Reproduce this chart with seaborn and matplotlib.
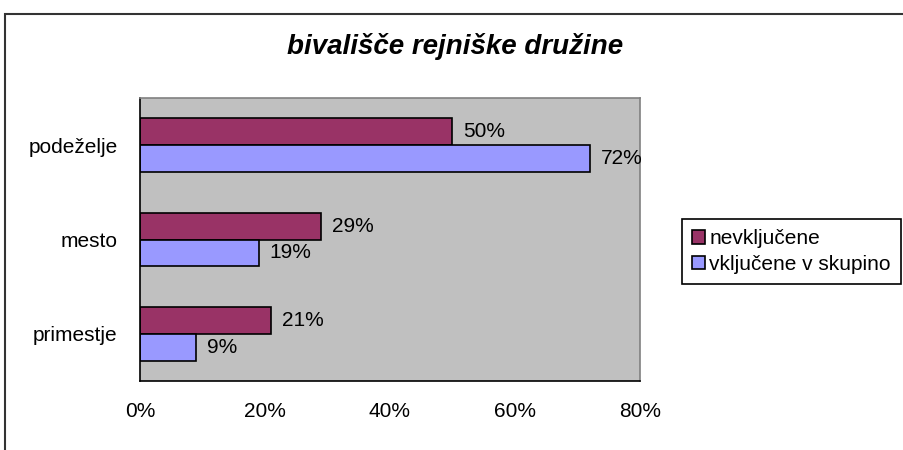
import seaborn as sns
import pandas as pd
import matplotlib.pyplot as plt
from matplotlib.patches import Rectangle, Patch
from matplotlib.ticker import FixedLocator

kraji = ["podeželje", "mesto", "primestje"]
skupine = ["nevključene", "vključene v skupino"]
nevkljucene = [50, 29, 21]
vkljucene = [72, 19, 9]
x_ticks = [0, 20, 40, 60, 80]
barve = ["#993366", "#9999FF"]

sns.set_style("white")
plt.rcParams["font.family"] = ["Liberation Sans", "DejaVu Sans"]
plt.rcParams["text.color"] = "black"
plt.rcParams["xtick.color"] = "black"
plt.rcParams["ytick.color"] = "black"

d = pd.DataFrame({
    "kraj": kraji * 2,
    "skupina": [skupine[0]] * 3 + [skupine[1]] * 3,
    "delez": nevkljucene + vkljucene,
})

fig = plt.figure(figsize=(9.04, 4.5), dpi=100)
ax = fig.add_axes([140 / 904, 1 - 381 / 450, 500 / 904, 283 / 450])
ax.set_facecolor("#C0C0C0")

sns.barplot(data=d, y="kraj", x="delez", hue="skupina", order=kraji,
            hue_order=skupine, palette=barve, orient="h", width=0.57, gap=0,
            edgecolor="black", linewidth=1.2, saturation=1, legend=False, ax=ax)

for c in ax.containers:
    ax.bar_label(c, labels=["%d%%" % v for v in c.datavalues], padding=8,
                 fontsize=15, color="black")

ax.set_xlim(0, 80)
ax.set_ylim(2.5, -0.5)
ax.set_xticks(x_ticks)
ax.set_xticklabels(["%d%%" % t for t in x_ticks], fontsize=15)
ax.tick_params(axis="x", direction="out", length=5, width=1, color="black", pad=10)
ax.tick_params(axis="y", which="major", length=0, labelsize=15, pad=16)
ax.yaxis.set_minor_locator(FixedLocator([-0.5, 0.5, 1.5, 2.5]))
ax.tick_params(axis="y", which="minor", direction="out", length=5, width=1, color="black")
ax.set_xlabel("")
ax.set_ylabel("")
for s in ["left", "bottom"]:
    ax.spines[s].set_color("black")
    ax.spines[s].set_linewidth(1.2)
for s in ["top", "right"]:
    ax.spines[s].set_color("#808080")
    ax.spines[s].set_linewidth(1.2)

handles = [Patch(facecolor=b, edgecolor="black", linewidth=1.2) for b in barve]
leg = fig.legend(handles, skupine, loc="upper left",
                 bbox_to_anchor=(682 / 904, 1 - 219 / 450), fontsize=15,
                 frameon=True, fancybox=False, edgecolor="black", framealpha=1,
                 handlelength=0.6, handleheight=0.6, handletextpad=0.2,
                 labelspacing=0.3, borderpad=0.5, borderaxespad=0)
leg.get_frame().set_linewidth(1.2)

fig.text(455 / 904, 1 - 47 / 450, "bivališče rejniške družine", ha="center",
         va="center", fontsize=20, fontweight="bold", fontstyle="italic")

fig.patches.append(Rectangle((5 / 904, -0.1), 1.2, 1 - 14 / 450 + 0.1,
                             transform=fig.transFigure, fill=False,
                             edgecolor="#333333", linewidth=1.5))

plt.savefig("out.png", dpi=100)
plt.close()
